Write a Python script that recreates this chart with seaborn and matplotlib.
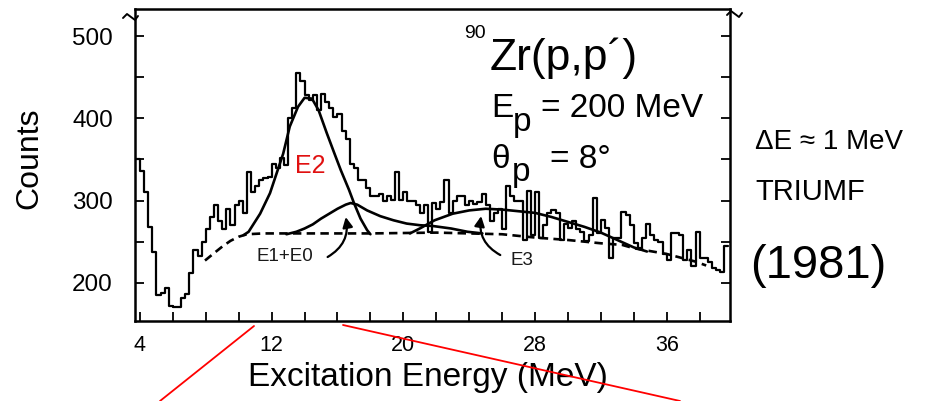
import matplotlib
matplotlib.use("Agg")
import numpy as np
import pandas as pd
import matplotlib.pyplot as plt
import seaborn as sns
from matplotlib.ticker import MultipleLocator
from matplotlib.lines import Line2D

# 90Zr(p,p') inelastic spectrum, 0.25 MeV wide channels starting at 3.75 MeV
bin_start = 3.75
bin_width = 0.25
counts = [
    350, 336, 310, 268, 238, 185, 187, 193, 172, 171, 171, 182, 186, 212, 240, 233,
    250, 265, 280, 295, 275, 265, 290, 270, 294, 300, 285, 335, 310, 318, 325, 327,
    329, 345, 340, 352, 343, 400, 412, 455, 445, 428, 422, 428, 410, 430, 420, 412,
    402, 405, 385, 375, 345, 340, 325, 325, 315, 305, 305, 308, 300, 305, 301, 335,
    301, 310, 300, 300, 295, 285, 295, 262, 297, 290, 298, 325, 285, 300, 305, 305,
    295, 300, 296, 298, 308, 295, 275, 285, 290, 265, 318, 305, 300, 300, 252, 312,
    258, 310, 255, 270, 285, 289, 285, 252, 272, 266, 275, 265, 262, 251, 258, 303,
    260, 276, 266, 230, 255, 255, 286, 282, 270, 248, 242, 255, 272, 258, 252, 250,
    235, 228, 260, 260, 258, 228, 240, 220, 262, 230, 230, 225, 218, 216, 213, 245,
]

# fitted giant-resonance components
e2_energy = [10.3, 10.6, 11.3, 11.9, 12.3, 12.7, 13.1, 13.6, 14.0, 14.45, 14.85,
             15.35, 15.8, 16.2, 16.7, 17.0, 17.4, 17.8, 18.0]
e2_counts = [258, 262, 284, 309, 333, 357, 390, 414, 425, 424, 410,
             382, 358, 337, 313, 297, 278, 264, 259]

e1e0_energy = [12.9, 13.5, 14.0, 14.5, 15.0, 15.5, 16.0, 16.5, 16.8, 17.2, 17.8,
               18.6, 19.4, 20.2, 21.0, 21.8, 22.9, 23.9, 24.8]
e1e0_counts = [259, 262, 266, 271, 278, 284, 290, 295, 297, 295, 288,
               281, 276, 272, 270, 269, 266, 262, 260]

e3_energy = [20.4, 21.0, 21.9, 23.0, 24.0, 25.0, 26.0, 27.0, 28.0, 29.0, 30.0,
             31.0, 32.0, 33.0, 34.0, 34.8]
e3_counts = [260, 266, 276, 284, 288, 290, 289, 287, 285, 280, 274,
             268, 261, 252, 243, 238]

# continuum background
base_energy = [7.95, 8.5, 9.0, 9.5, 10.0, 10.5, 11.5, 14.0, 18.0, 22.0, 26.0,
               28.0, 30.0, 32.0, 33.3, 34.0, 36.0, 37.7, 38.4]
base_counts = [227, 236, 244, 251, 256, 259, 260, 260, 260, 261, 259,
               255, 252, 248, 246, 242, 235, 226, 221]

x_tick_labels = [4, 12, 20, 28, 36]
y_tick_labels = [200, 300, 400, 500]

sns.set_style("ticks")
plt.rcParams["font.family"] = ["Liberation Sans", "DejaVu Sans"]
plt.rcParams.update({"text.color": "black", "axes.labelcolor": "black",
                     "xtick.color": "black", "ytick.color": "black"})

fig = plt.figure(figsize=(9.39, 4.01), dpi=100)
ax = fig.add_axes([0.1438, 0.2002, 0.6337, 0.7773])

n_bins = len(counts)
centers = bin_start + bin_width * (np.arange(n_bins) + 0.5)
spectrum = pd.DataFrame({"energy": centers, "counts": counts})
sns.histplot(data=spectrum, x="energy", weights="counts", binwidth=bin_width,
             binrange=(bin_start, bin_start + bin_width * n_bins),
             element="step", fill=False, color="black", linewidth=1.6, ax=ax)

curve_kw = dict(color="black", linewidth=1.9, estimator=None, sort=False, ax=ax)
sns.lineplot(x=e2_energy, y=e2_counts, **curve_kw)
sns.lineplot(x=e1e0_energy, y=e1e0_counts, **curve_kw)
sns.lineplot(x=e3_energy, y=e3_counts, **curve_kw)
sns.lineplot(x=base_energy, y=base_counts, linestyle=(0, (3.2, 2.0)), **curve_kw)

ax.set_xlim(3.7, 39.85)
ax.set_ylim(153.8, 533)
ax.set_xticks(x_tick_labels)
ax.set_xticklabels([str(v) for v in x_tick_labels])
ax.xaxis.set_minor_locator(MultipleLocator(2))
ax.set_yticks(y_tick_labels)
ax.set_yticklabels([str(v) for v in y_tick_labels])
ax.yaxis.set_minor_locator(MultipleLocator(50))

for side in ["left", "right", "top", "bottom"]:
    ax.spines[side].set_visible(True)
    ax.spines[side].set_linewidth(1.8)
    ax.spines[side].set_color("black")

ax.tick_params(axis="both", which="both", direction="in", color="black",
               width=1.3, length=6.5, top=False, right=True)
ax.tick_params(axis="x", labelsize=15.5, pad=10)
ax.tick_params(axis="y", labelsize=17.5, pad=16)

ax.set_xlabel("Excitation Energy (MeV)", fontsize=24, va="center")
ax.xaxis.set_label_coords(0.493, -0.181)
ax.set_ylabel("Counts", fontsize=23, va="center")
ax.yaxis.set_label_coords(-0.177, 0.52)

# reaction and kinematics
ax.text(23.70, 497.7, "90", fontsize=14, ha="left", va="baseline")
ax.text(25.22, 458.8, "Zr(p,p\u00b4)", fontsize=32, ha="left", va="baseline")
ax.text(25.34, 401.6, "E", fontsize=24, ha="left", va="baseline")
ax.text(26.68, 384.5, "p", fontsize=24, ha="left", va="baseline")
ax.text(28.39, 401.6, "= 200 MeV", fontsize=24, ha="left", va="baseline")
ax.text(25.34, 339.5, "\u03b8", fontsize=24, ha="left", va="baseline")
ax.text(26.62, 323.7, "p", fontsize=24, ha="left", va="baseline")
ax.text(28.88, 339.5, "= 8\u00b0", fontsize=24, ha="left", va="baseline")

# component labels
ax.text(14.37, 341.9, "E2", fontsize=18, color="#e01010", ha="center", va="center")
ax.text(12.78, 231.6, "E1+E0", fontsize=13.5, color="#1a1a1a", ha="center", va="center")
ax.text(27.23, 227.6, "E3", fontsize=13.5, color="#1a1a1a", ha="center", va="center")

arrow_kw = dict(arrowstyle="-|>,head_length=0.6,head_width=0.3", color="black", lw=1.6,
                shrinkA=0, shrinkB=0)
ax.annotate("", xy=(16.50, 279.9), xytext=(15.40, 231.3),
            arrowprops=dict(connectionstyle="arc3,rad=0.35", **arrow_kw))
ax.annotate("", xy=(24.73, 281.1), xytext=(25.89, 233.7),
            arrowprops=dict(connectionstyle="arc3,rad=-0.35", **arrow_kw))

# axis-break marks at the top of both vertical spines
W, H = 939.0, 401.0
for x0, y0 in [(130, 17), (734, 14)]:
    xs = [x0 - 7, x0 - 3, x0 + 1, x0 + 5, x0 + 8]
    ys = [y0 + 1, y0 - 3, y0, y0 + 3, y0 - 1]
    fig.add_artist(Line2D([v / W for v in xs], [1 - v / H for v in ys],
                          color="black", linewidth=1.4, transform=fig.transFigure))

# experiment notes beside the frame
fig.text(0.804, 0.6284, "\u0394E \u2248 1 MeV", fontsize=20, ha="left", va="baseline")
fig.text(0.804, 0.5012, "TRIUMF", fontsize=21, ha="left", va="baseline")
fig.text(0.7987, 0.3067, "(1981)", fontsize=34, ha="left", va="baseline")

# zoom guide lines below the energy axis
fig.add_artist(Line2D([160 / W, 254 / W], [0.0, 1 - 326 / H],
                      color="red", linewidth=1.3, transform=fig.transFigure))
fig.add_artist(Line2D([343 / W, 680 / W], [1 - 325 / H, 0.0],
                      color="red", linewidth=1.3, transform=fig.transFigure))

fig.savefig("out.png", dpi=100)
